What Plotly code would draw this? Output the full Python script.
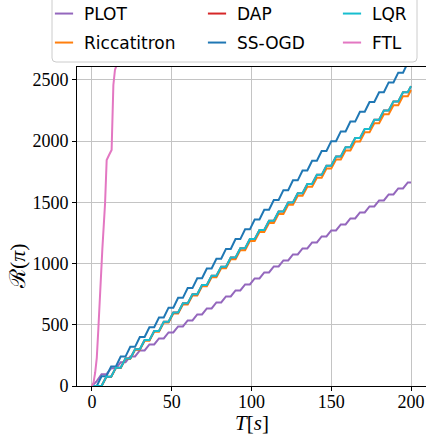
import plotly.graph_objects as go

# ---- data ----
T = [0, 3, 6, 9, 12, 15, 18, 21, 24, 27, 30, 33, 36, 39, 42, 45, 48, 51, 54, 57,
     60, 63, 66, 69, 72, 75, 78, 81, 84, 87, 90, 93, 96, 99, 102, 105, 108, 111, 114, 117,
     120, 123, 126, 129, 132, 135, 138, 141, 144, 147, 150, 153, 156, 159, 162, 165, 168, 171, 174, 177,
     180, 183, 186, 189, 192, 195, 198, 200]

PLOT_R = [0, 40, 95, 95, 144, 144, 193, 193, 242, 242, 291, 291, 340, 340, 389, 389, 438, 438, 487, 487,
          536, 536, 585, 585, 634, 634, 683, 683, 732, 732, 781, 781, 830, 830, 879, 879, 928, 928, 977, 977,
          1026, 1026, 1075, 1075, 1124, 1124, 1173, 1173, 1222, 1222, 1271, 1271, 1320, 1320, 1369, 1369, 1418, 1418, 1467, 1467,
          1516, 1516, 1565, 1565, 1614, 1614, 1663, 1663]

RICCATITRON_R = [0, 0, 0, 74, 74, 148, 148, 222, 222, 296, 296, 370, 370, 444, 444, 518, 518, 592, 592, 666,
                 666, 740, 740, 814, 814, 888, 888, 962, 962, 1036, 1036, 1110, 1110, 1184, 1184, 1258, 1258, 1332, 1332, 1406,
                 1406, 1480, 1480, 1554, 1554, 1628, 1628, 1702, 1702, 1776, 1776, 1850, 1850, 1924, 1924, 1998, 1998, 2072, 2072, 2146,
                 2146, 2220, 2220, 2294, 2294, 2368, 2368, 2417]

DAP_R = [0, 0, 0, 75, 75, 150, 150, 225, 225, 300, 300, 375, 375, 450, 450, 525, 525, 600, 600, 675,
         675, 750, 750, 825, 825, 900, 900, 975, 975, 1050, 1050, 1125, 1125, 1200, 1200, 1275, 1275, 1350, 1350, 1425,
         1425, 1500, 1500, 1575, 1575, 1650, 1650, 1725, 1725, 1800, 1800, 1875, 1875, 1950, 1950, 2025, 2025, 2100, 2100, 2175,
         2175, 2250, 2250, 2325, 2325, 2400, 2400, 2450]

SSOGD_R = [0, 0, 80, 80, 160, 160, 240, 240, 320, 320, 400, 400, 480, 480, 560, 560, 640, 640, 720, 720,
           800, 800, 880, 880, 960, 960, 1040, 1040, 1120, 1120, 1200, 1200, 1280, 1280, 1360, 1360, 1440, 1440, 1520, 1520,
           1600, 1600, 1680, 1680, 1760, 1760, 1840, 1840, 1920, 1920, 2000, 2000, 2080, 2080, 2160, 2160, 2240, 2240, 2320, 2320,
           2400, 2400, 2480, 2480, 2560, 2560, 2640, 2640]

LQR_R = [0, 0, 0, 75, 75, 150, 150, 225, 225, 300, 300, 375, 375, 450, 450, 525, 525, 600, 600, 675,
         675, 750, 750, 825, 825, 900, 900, 975, 975, 1050, 1050, 1125, 1125, 1200, 1200, 1275, 1275, 1350, 1350, 1425,
         1425, 1500, 1500, 1575, 1575, 1650, 1650, 1725, 1725, 1800, 1800, 1875, 1875, 1950, 1950, 2025, 2025, 2100, 2100, 2175,
         2175, 2250, 2250, 2325, 2325, 2400, 2400, 2450]

FTL_T = [0, 1, 2, 3, 4, 5, 5.3, 6.5, 8.2, 9.2, 10.7, 12.3, 13.4, 14.4, 15.5, 18]
FTL_R = [0, 30, 110, 230, 470, 784, 800, 1120, 1493, 1846, 1887, 1928, 2459, 2582, 2623, 2900]

X_TICKS = [0, 50, 100, 150, 200]
Y_TICKS = [0, 500, 1000, 1500, 2000, 2500]

SERIES = [
    ("PLOT", T, PLOT_R, "#9467bd"),
    ("Riccatitron", T, RICCATITRON_R, "#ff7f0e"),
    ("DAP", T, DAP_R, "#d62728"),
    ("SS-OGD", T, SSOGD_R, "#1f77b4"),
    ("LQR", T, LQR_R, "#17becf"),
    ("FTL", FTL_T, FTL_R, "#e377c2"),
]

W, H = 426, 436
ML, MR, MT, MB = 77, 0, 67, 50
PW, PH = W - ML - MR, H - MT - MB


def px_to_paper_x(px):
    return (px - ML) / PW


def px_to_paper_y(py):
    return (H - MB - py) / PH


fig = go.Figure()
for name, xs, ys, col in SERIES:
    fig.add_trace(go.Scatter(x=xs, y=ys, mode="lines", name=name,
                             line=dict(color=col, width=2), showlegend=False))

# legend entries: 3 columns x 2 rows, column-major
col_x = [44, 197, 332]
row_y = [14, 43]
legend_layouts = {}
for i, (name, xs, ys, col) in enumerate(SERIES):
    c, r = divmod(i, 2)
    lname = "legend" if i == 0 else f"legend{i + 1}"
    fig.add_trace(go.Scatter(x=[None], y=[None], mode="markers", name=name,
                             marker=dict(symbol="line-ew", size=13, color=col,
                                         line=dict(width=2, color=col)),
                             showlegend=True, legend=lname))
    legend_layouts[lname] = dict(
        x=px_to_paper_x(col_x[c]), y=px_to_paper_y(row_y[r]),
        xanchor="left", yanchor="middle",
        bgcolor="rgba(0,0,0,0)", borderwidth=0,
        font=dict(family="DejaVu Sans", size=17, color="black"),
    )

# legend frame (rounded)
x0, x1 = px_to_paper_x(52), px_to_paper_x(417)
y0, y1 = px_to_paper_y(62), px_to_paper_y(-6)
rx, ry = 4 / PW, 4 / PH
path = (f"M{x0+rx},{y0} L{x1-rx},{y0} Q{x1},{y0} {x1},{y0+ry} "
        f"L{x1},{y1-ry} Q{x1},{y1} {x1-rx},{y1} L{x0+rx},{y1} Q{x0},{y1} {x0},{y1-ry} "
        f"L{x0},{y0+ry} Q{x0},{y0} {x0+rx},{y0} Z")
fig.add_shape(type="path", path=path, xref="paper", yref="paper",
              line=dict(color="#cccccc", width=1), fillcolor="rgba(255,255,255,0.8)", layer="above")

tick_font = dict(family="Liberation Serif", size=18, color="black")
fig.update_layout(
    width=W, height=H,
    margin=dict(l=ML, r=MR, t=MT, b=MB, pad=0, autoexpand=False),
    paper_bgcolor="white", plot_bgcolor="white",
    showlegend=True,
    **legend_layouts,
    xaxis=dict(range=[-9.4, 209.4], tickvals=X_TICKS, ticktext=[str(v) for v in X_TICKS],
               showgrid=True, gridcolor="#c4c4c4", gridwidth=1,
               showline=True, linecolor="black", linewidth=1, mirror=True,
               ticks="outside", ticklen=4, tickwidth=1, tickcolor="black",
               ticklabelstandoff=-5,
               tickfont=tick_font, zeroline=False, automargin=False),
    yaxis=dict(range=[0, 2606], tickvals=Y_TICKS, ticktext=[str(v) for v in Y_TICKS],
               showgrid=True, gridcolor="#c4c4c4", gridwidth=1,
               showline=True, linecolor="black", linewidth=1, mirror=False,
               ticks="outside", ticklen=4, tickwidth=1, tickcolor="black",
               tickfont=tick_font, zeroline=False, automargin=False),
    annotations=[
        dict(text="<i>T</i>[<i>s</i>]", xref="paper", yref="paper",
             x=0.5, y=px_to_paper_y(423), xanchor="center", yanchor="middle",
             showarrow=False, font=dict(family="Liberation Serif", size=21, color="black")),
        dict(text="ℛ(<i>π</i>)", xref="paper", yref="paper",
             x=px_to_paper_x(17), y=px_to_paper_y(266), xanchor="center", yanchor="middle",
             textangle=-90, showarrow=False,
             font=dict(family="Liberation Serif", size=22, color="black")),
    ],
)

fig.write_html("out.html", config={"displayModeBar": False},
               post_script="document.body.style.margin='0px';document.body.style.padding='0px';")
